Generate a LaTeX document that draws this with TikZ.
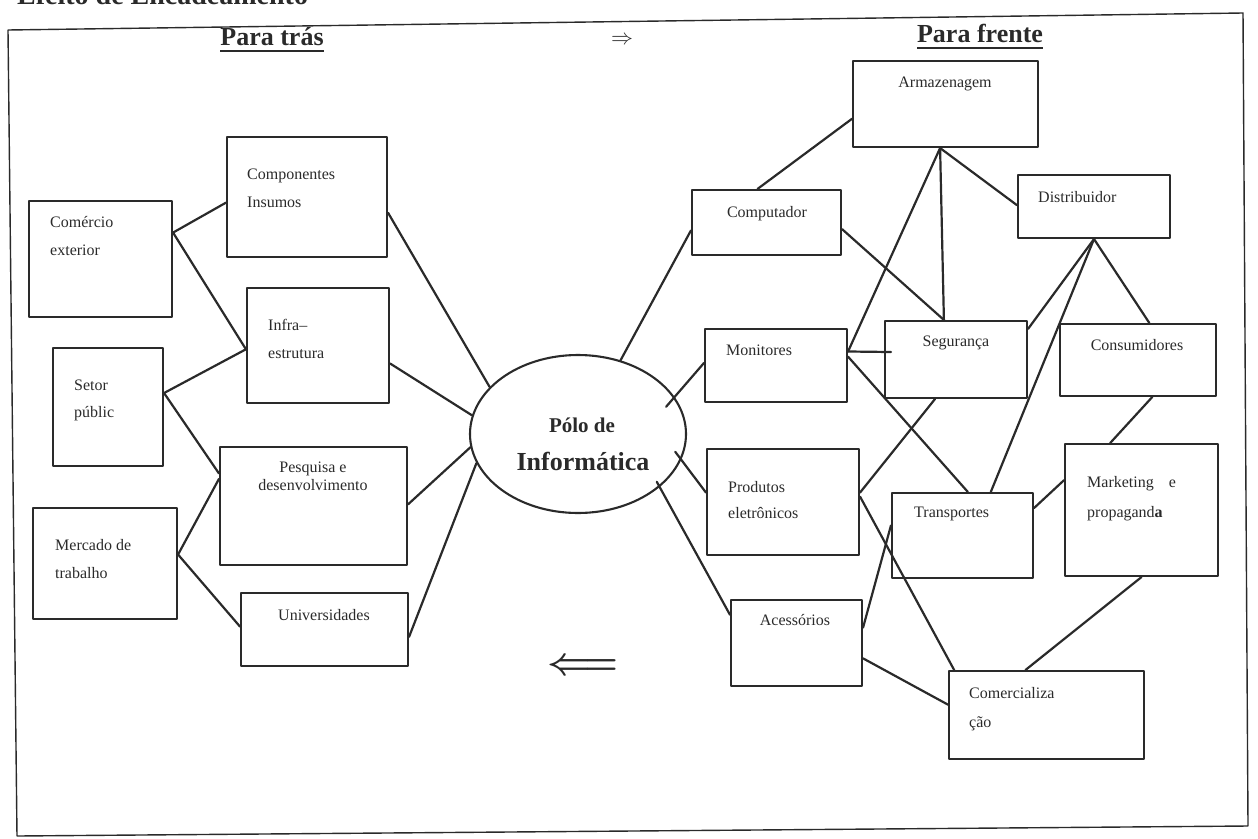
\documentclass[tikz,border=0pt]{standalone}
\usepackage{fontspec}
\setmainfont{Liberation Serif}
\usepackage{graphicx}
\usetikzlibrary{shapes.geometric, fit, calc}

\definecolor{ink}{HTML}{2A2A2A}

\tikzset{
  box/.style={draw=ink, line width=2.1pt, inner sep=0pt},
  lbl/.style={inner sep=0pt, anchor=base west, text=ink, font=\fontsize{16}{16}\selectfont},
  clbl/.style={lbl, anchor=base},
  link/.style={draw=ink, line width=2.2pt},
  head/.style={inner sep=0pt, anchor=base, text=ink, font=\fontsize{26}{26}\selectfont\bfseries}
}
\newcommand\headul[1]{\setbox0=\hbox{#1}\rlap{\rule[-7pt]{\wd0}{2.4pt}}\box0}

\begin{document}
\begin{tikzpicture}[x=1pt, y=-1pt, line join=round, line cap=round]

  \useasboundingbox (0,0) rectangle (1258,838);

  % --- frame and headings ---
  \draw[ink, line width=1.4pt] (8,30) -- (1243,13) -- (1248,826) -- (17,836) -- cycle;
  \node[head, anchor=base west, font=\fontsize{28}{28}\selectfont\bfseries] (title) at (17,4) {Efeito de Encadeamento};
  \node[head] (back) at (272,45) {\headul{Para trás}};
  \node[head] (fwd) at (980,42) {\headul{Para frente}};
  \node[inner sep=0pt, text=ink] (rarr) at (622,40) {\scalebox{2.2}{$\Rightarrow$}};
  \node[inner sep=0pt, text=ink] (larr) at (583,667) {\scalebox{3.8}{\boldmath$\Longleftarrow$}};

  % --- boxes: name / top left / bottom right ---
  \foreach \n/\xa/\ya/\xb/\yb in {
      com/29/201/172/317, cmp/227/137/387/257, inf/247/288/389/403,
      set/53/348/163/466, pes/220/447/407/565, mer/33/508/177/619,
      uni/241/593/408/666,
      arm/853/61/1038/147, cpu/692/190/841/255, dis/1018/175/1170/238,
      mon/705/329/847/402, seg/885/321/1027/398, con/1060/324/1216/396,
      pro/707/449/859/555, tra/892/493/1033/578, mkt/1065/444/1218/576,
      ace/731/600/862/686, cml/949/671/1144/759}
    \node[box, fit={(\xa,\ya) (\xb,\yb)}] (\n) {};

  % --- centre ---
  \node[box, ellipse, minimum width=216pt, minimum height=158pt] (polo) at (578,434) {};
  \node[head, font=\fontsize{21}{21}\selectfont\bfseries] (polo-a) at (582,432) {Pólo de};
  \node[head] (polo-b) at (583,470) {Informática};

  % --- labels ---
  \foreach \n/\x/\y/\t in {
      com-a/50/227/Comércio, com-b/50/255/exterior,
      cmp-a/247/179/Componentes, cmp-b/247/207/Insumos,
      inf-a/268/330/Infra--, inf-b/268/358/estrutura,
      set-a/74/390/Setor, set-b/74/417/públic,
      mer-a/55/550/Mercado de, mer-b/55/578/trabalho,
      dis-a/1038/202/Distribuidor, mon-a/726/355/Monitores,
      pro-a/728/492/Produtos, pro-b/728/518/eletrônicos,
      tra-a/914/517/Transportes,
      mkt-a/1087/487/Marketing\hspace{15pt}e, mkt-b/1087/517/propagand{\bfseries a},
      cml-a/969/698/Comercializa, cml-b/969/727/ção}
    \node[lbl] (\n) at (\x,\y) {\t};
  \foreach \n/\x/\y/\t in {
      pes-a/313/472/Pesquisa e, pes-b/313/490/desenvolvimento,
      uni-a/324/620/Universidades, arm-a/945/87/Armazenagem,
      cpu-a/767/217/Computador, seg-a/956/346/Segurança,
      con-a/1137/350/Consumidores, ace-a/795/625/Acessórios}
    \node[clbl] (\n) at (\x,\y) {\t};

  % --- backward links ---
  \draw[link] (com.20) -- (cmp.184);
  \draw[link] (com.20) -- (inf.183);
  \draw[link] (set.14) -- (inf.183);
  \draw[link] (set.14) -- (pes.161);
  \draw[link] (mer.7) -- (pes.164);
  \draw[link] (mer.7) -- (uni.178);
  \draw[link] (cmp.349) -- (polo.152);
  \draw[link] (inf.346) -- (polo.170);
  \draw[link] (pes.1) -- (polo.187);
  \draw[link] (uni.355) -- (polo.196);

  % --- forward links ---
  \draw[link] (polo.60) -- (cpu.186);
  \draw[link, shorten <=-13pt] (polo.21) -- (mon.178);
  \draw[link, shorten <=-10pt] (polo.346) -- (pro.173);
  \draw[link, shorten <=-6pt] (polo.327) -- (ace.157);
  \draw[link] (cpu.105) -- (arm.189);
  \draw[link] (arm.263) -- (seg.107);
  \draw[link] (arm.263) -- (mon.11);
  \draw[link] (arm.263) -- (dis.179);
  \draw[link] (cpu.355) -- (seg.107);
  \draw[link, shorten >=-7pt] (mon.11) -- (seg.174);
  \draw[link] (mon.7) -- (tra.83);
  \draw[link] (seg.242) -- (pro.7);
  \draw[link] (dis.south) -- (seg.23);
  \draw[link] (dis.south) -- (tra.57);
  \draw[link] (dis.south) -- (con.73);
  \draw[link] (con.291) -- (mkt.115);
  \draw[link] (tra.21) -- (mkt.159);
  \draw[link] (pro.4) -- (cml.154);
  \draw[link] (tra.172) -- (ace.13);
  \draw[link] (mkt.south) -- (cml.115);
  \draw[link] (ace.347) -- (cml.174);

\end{tikzpicture}
\end{document}
